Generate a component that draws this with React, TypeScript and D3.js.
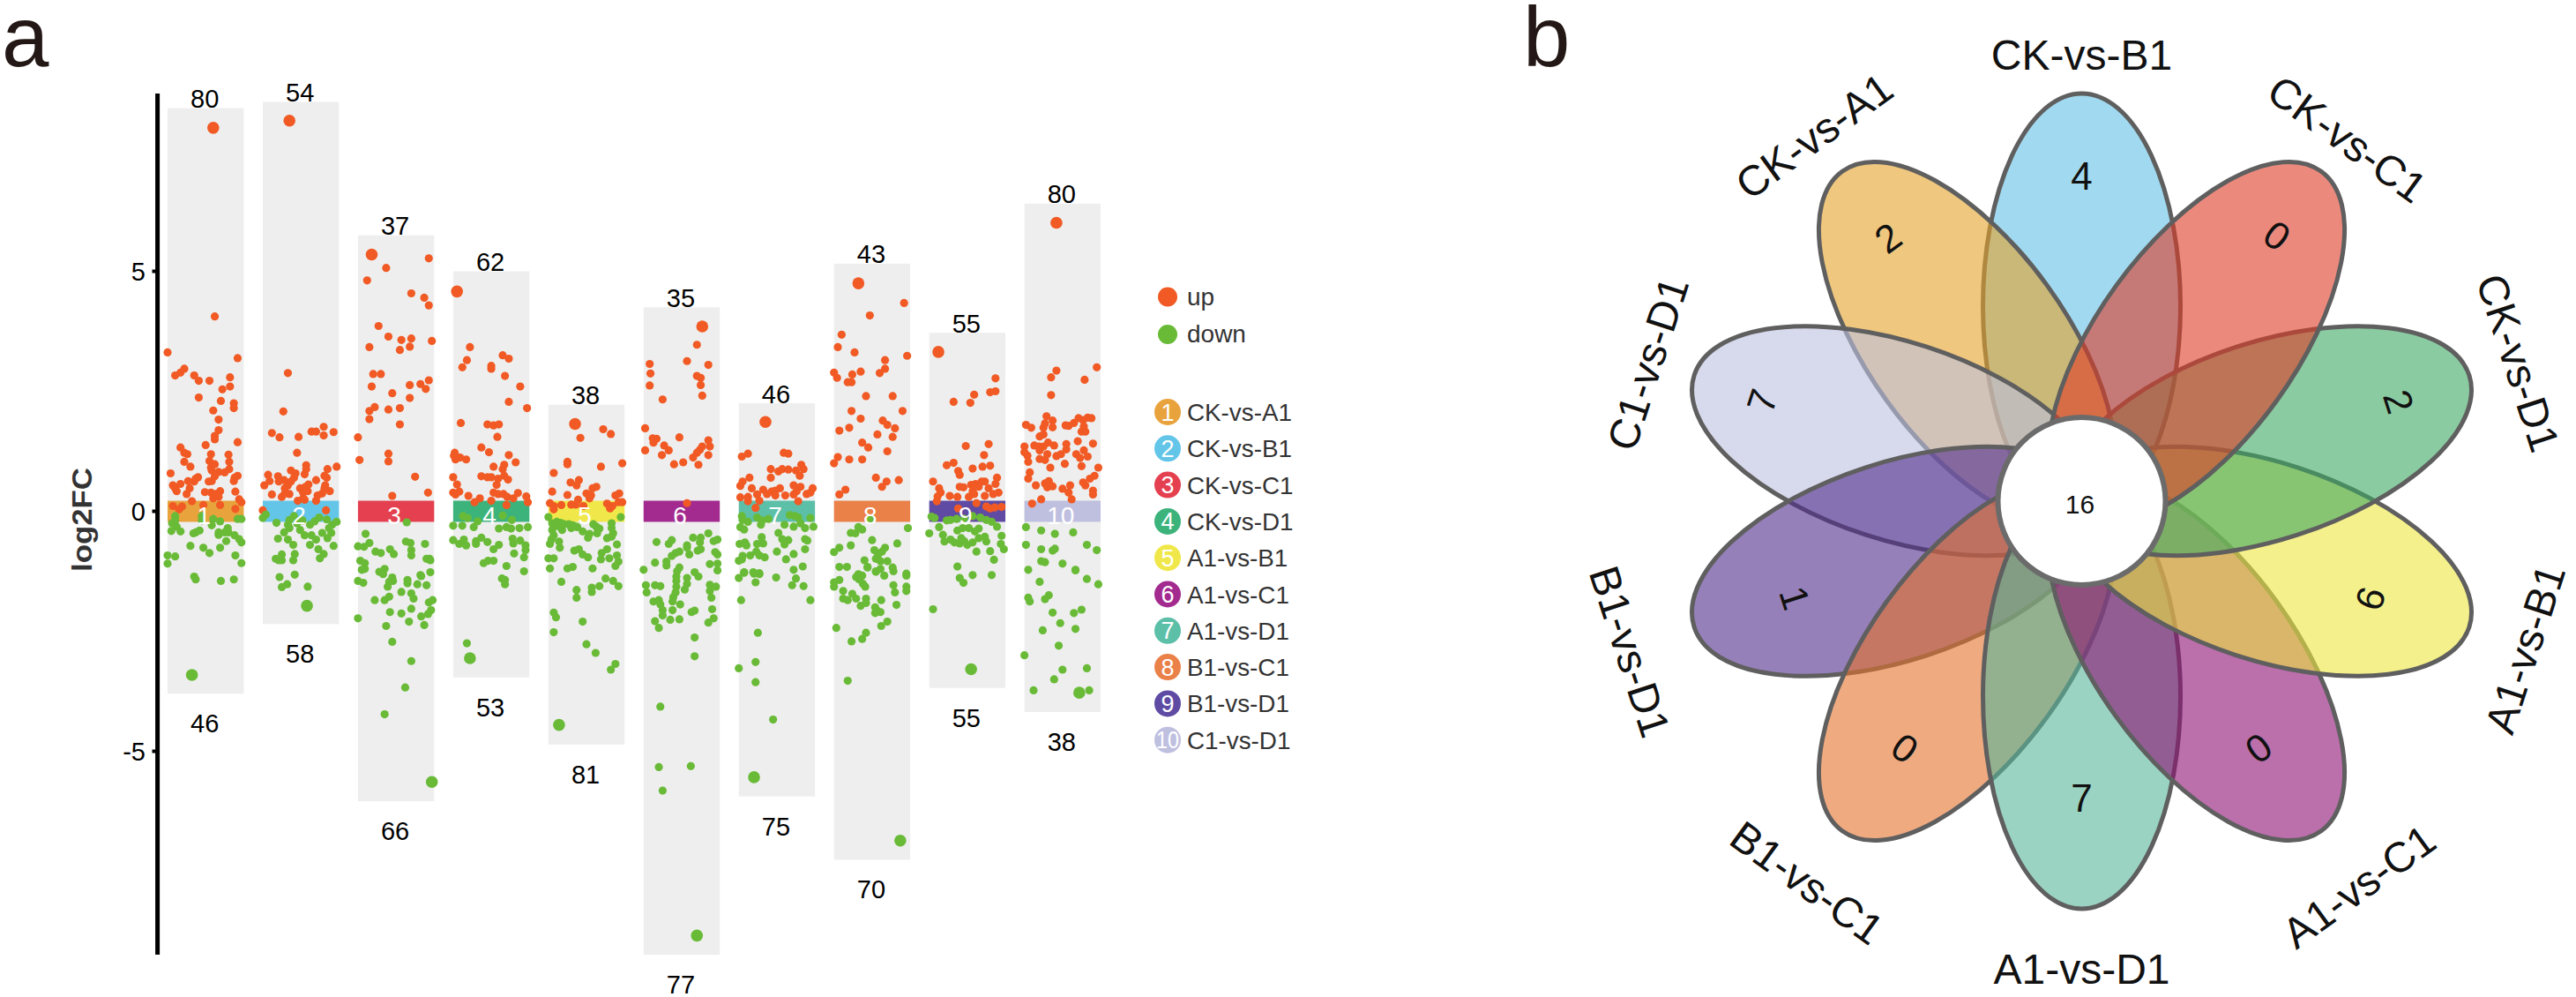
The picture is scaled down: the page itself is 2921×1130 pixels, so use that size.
import React from "react";
import * as d3 from "d3";

const categories = ["CK-vs-A1","CK-vs-B1","CK-vs-C1","CK-vs-D1","A1-vs-B1","A1-vs-C1","A1-vs-D1","B1-vs-C1","B1-vs-D1","C1-vs-D1"];
const palette = ["#E8A33D","#63C5E8","#E4404F","#3DB37C","#F0E84A","#A32A8F","#5CBFA8","#EA8149","#5F4BA3","#BFBFE0"];
const vennPalette = ["#E4A228","#63C2E6","#DF3A26","#3EA862","#EDE63E","#8E0F73","#57B699","#E4712B","#502B8C","#BCBFDF"];
const upCounts = [80,54,37,62,38,35,46,43,55,80];
const downCounts = [46,58,66,53,81,77,75,70,55,38];
const barTops = [8.4,8.53,5.75,5.0,2.22,4.25,2.25,5.16,3.72,6.41];
const barBottoms = [-3.8,-2.35,-6.04,-3.46,-4.86,-9.24,-5.94,-7.26,-3.68,-4.18];
const yTicks = [5,0,-5];
const legendKeys = ["up","down"];
const vennCounts = [2,4,0,2,6,0,7,0,1,7];
const vennCore = 16;
const vennAngles = [-36,0,36,72,108,144,180,216,252,288];
const vennDrawOrder = [1,0,9,8,7,6,5,4,3,2];
const labelRotations = [-36,0,36,72,-72,-36,0,36,72,-72];
const labelRadii = [516,510,512,520,529,535,526,530,539,517];
const countRadii = [374,373,377,378,344,341,332,341,342,381];

// each point: [position across the column 0..1, log2FC]
const up1 = [[.60,7.99],[.62,4.06],[0,3.31],[.92,3.19],[.22,2.97],[.17,2.89],[.10,2.83],[.35,2.83],[.41,2.72],[.55,2.72],[.82,2.79],[.82,2.60],[.72,2.54],[.41,2.37],[.70,2.30],[.87,2.25],[.87,2.15],[.60,2.10],[.67,1.91],[.67,1.69],[.62,1.57],[.62,1.50],[.50,1.38],[.92,1.44],[.17,1.33],[.22,1.22],[.26,1.19],[.57,1.19],[.80,1.18],[.22,1.03],[.30,.93],[.55,1.05],[.62,.98],[.81,1.03],[.57,.91],[.81,.88],[.58,.85],[.04,.79],[.67,.82],[.75,.81],[.62,.73],[.40,.71],[.37,.68],[.27,.63],[.35,.62],[.92,.74],[.88,.70],[.87,.63],[.58,.63],[.54,.62],[.17,.57],[.07,.54],[.10,.48],[.12,.42],[.29,.48],[.25,.36],[.49,.40],[.57,.39],[.63,.36],[.69,.42],[.67,.30],[.60,.27],[.89,.41],[.94,.25],[.97,.19],[.32,.21],[.07,.11],[.19,.10],[.15,.04],[.47,.13],[.69,.13],[.89,.05]];
const down1 = [[.10,-.10],[.10,-.19],[.45,-.10],[.45,-.19],[.60,-.16],[.69,-.21],[.92,-.16],[.97,-.16],[.06,-.25],[.12,-.32],[.05,-.41],[.17,-.42],[.37,-.44],[.42,-.40],[.34,-.46],[.58,-.29],[.67,-.44],[.79,-.35],[.67,-.49],[.75,-.44],[.80,-.44],[.88,-.50],[.94,-.58],[.97,-.65],[.77,-.62],[.30,-.72],[.47,-.76],[.55,-.87],[.69,-.76],[.89,-.92],[0,-.92],[.10,-.94],[0,-1.09],[.97,-1.08],[.35,-1.36],[.37,-1.42],[.70,-1.45],[.87,-1.42],[.32,-3.41]];
const up2 = [[.35,8.14],[.33,2.88],[.27,2.08],[.80,1.76],[.80,1.58],[.93,1.65],[.64,1.66],[.70,1.66],[.12,1.63],[.22,1.54],[.47,1.55],[.45,1.22],[.57,.96],[.97,.93],[.85,.88],[.37,.85],[.57,.88],[.07,.76],[.43,.79],[.55,.77],[.81,.74],[.20,.73],[.28,.65],[.41,.70],[.37,.62],[.70,.65],[.84,.70],[.09,.63],[.21,.62],[.02,.54],[.33,.54],[.60,.56],[.82,.54],[.56,.51],[.49,.48],[.12,.35],[.29,.48],[.29,.37],[.35,.36],[.25,.30],[.53,.39],[.59,.42],[.53,.27],[.88,.42],[.78,.37],[.72,.33],[.70,.22],[.46,.22],[.55,.24],[0,.02],[.83,.02],[.81,.48]];
const down2 = [[.04,-.07],[0,-.14],[.18,-.24],[.41,-.10],[.35,-.18],[.33,-.28],[.35,-.35],[.45,-.25],[.52,-.19],[.74,-.13],[.68,-.21],[.84,-.17],[.62,-.28],[.91,-.28],[.97,-.22],[.87,-.35],[.28,-.44],[.49,-.39],[.55,-.50],[.20,-.57],[.33,-.59],[.40,-.70],[.64,-.50],[.70,-.59],[.78,-.45],[.90,-.45],[.85,-.56],[.62,-.70],[.93,-.72],[.73,-.79],[.80,-.89],[.75,-.98],[.42,-.89],[.40,-1.02],[.25,-.90],[.17,-.99],[.21,-1.02],[.25,-1.02],[.22,-1.37],[.42,-1.32],[.32,-1.52],[.25,-1.58],[.59,-1.57],[.58,-1.97]];
const up3 = [[.18,5.35],[.37,5.07],[.93,5.27],[.12,4.81],[.70,4.54],[.87,4.45],[.93,4.29],[.27,3.86],[.40,3.64],[.57,3.57],[.70,3.60],[.97,3.55],[.15,3.42],[.68,3.43],[.55,3.36],[.20,2.86],[.30,2.86],[.93,2.73],[.82,2.65],[.68,2.63],[.89,2.55],[.18,2.60],[.45,2.46],[.68,2.36],[.22,2.17],[.15,2.09],[.40,2.12],[.55,2.15],[.15,1.92],[.55,1.81],[0,1.54],[.40,1.20],[.40,1.04],[.02,1.07],[.75,.72],[.92,.39],[.45,.32]];
const down3 = [[.64,-.23],[.10,-.47],[.15,-.66],[0,-.73],[.08,-.74],[.23,-.84],[.30,-.87],[.42,-.79],[.47,-.89],[.63,-.63],[.69,-.66],[.70,-.81],[.70,-.92],[.88,-.68],[.90,-.99],[.94,-.99],[.95,-1.02],[.03,-1.03],[.09,-1.08],[.09,-1.20],[.05,-1.22],[.28,-1.26],[.35,-1.20],[.82,-1.33],[.95,-1.27],[.33,-1.31],[.45,-1.38],[.41,-1.47],[.46,-1.45],[.39,-1.57],[.65,-1.43],[.65,-1.50],[.83,-1.35],[.78,-1.52],[.90,-1.54],[0,-1.45],[.07,-1.49],[.57,-1.68],[.70,-1.71],[.73,-1.82],[.22,-1.85],[.35,-1.85],[.41,-1.78],[.93,-1.90],[.98,-1.85],[.70,-2.03],[.42,-2.10],[.57,-2.13],[.96,-2.06],[.92,-2.14],[.83,-2.19],[0,-2.23],[.67,-2.30],[.37,-2.39],[.87,-2.37],[.45,-2.72],[.70,-3.12],[.62,-3.67],[.35,-4.23],[.97,-5.64]];
const up4 = [[.05,4.58],[.22,3.42],[.65,3.25],[.73,3.18],[.18,3.15],[.12,3.0],[.50,3.03],[.50,2.97],[.68,2.82],[.88,2.60],[.73,2.28],[.97,2.15],[.10,1.84],[.45,1.81],[.53,1.79],[.60,1.81],[.58,1.55],[.37,1.33],[.47,1.23],[.73,1.17],[.82,1.02],[.01,1.16],[.02,1.22],[.03,1.08],[.09,1.12],[.17,1.08],[.53,.93],[.67,.97],[.65,.88],[0,.71],[.05,.56],[.37,.73],[.45,.71],[.50,.71],[.59,.68],[.67,.74],[.72,.66],[.57,.55],[0,.39],[.08,.41],[.03,.35],[.20,.32],[.35,.27],[.28,.19],[.50,.22],[.53,.39],[.59,.36],[.66,.36],[.71,.30],[.79,.27],[.85,.38],[.96,.31],[.98,.19],[.70,.13]];
const down4 = [[.13,-.10],[.19,-.14],[.65,-.09],[.77,-.18],[.32,-.21],[0,-.30],[.12,-.30],[.27,-.33],[.60,-.36],[.70,-.33],[.76,-.36],[.87,-.35],[.98,-.33],[0,-.60],[.14,-.59],[.08,-.68],[.17,-.71],[.30,-.62],[.37,-.55],[.45,-.64],[.30,-.68],[.53,-.79],[.60,-.70],[.78,-.57],[.79,-.67],[.88,-.61],[.95,-.71],[.95,-.81],[.80,-.88],[.93,-.96],[.40,-1.08],[.46,-1.03],[.53,-1.03],[.70,-1.14],[.93,-1.25],[.64,-1.40],[.68,-1.52],[.68,-1.43],[.18,-2.75],[.22,-3.06]];
const up5 = [[.35,1.82],[.72,1.71],[.82,1.61],[.42,1.53],[.25,1.03],[.25,.98],[.69,.93],[.97,1.0],[.07,.80],[.29,.60],[.40,.65],[.37,.54],[.63,.51],[.58,.48],[.05,.41],[.25,.34],[.50,.37],[.56,.33],[.54,.27],[.39,.24],[.36,.14],[.30,.14],[.46,.11],[.88,.33],[.93,.37],[.97,.19],[.92,.19],[.77,.16],[.84,.11],[.81,.06],[.02,.17],[.07,.11],[.07,.04],[.17,.13]];
const down5 = [[0,-.12],[.95,-.12],[.83,-.25],[.83,-.35],[.05,-.25],[.11,-.22],[.16,-.24],[.21,-.27],[.27,-.27],[.32,-.29],[.36,-.32],[.38,-.33],[.07,-.32],[.15,-.32],[.05,-.39],[.18,-.39],[.30,-.35],[.45,-.42],[.54,-.47],[.52,-.55],[.59,-.27],[.63,-.32],[.67,-.36],[.64,-.46],[.85,-.46],[.83,-.53],[.77,-.56],[.07,-.50],[.04,-.59],[.02,-.68],[.14,-.63],[.15,-.76],[.34,-.82],[.40,-.79],[.45,-.90],[.52,-.96],[.90,-.69],[.77,-.79],[.70,-.87],[.69,-1.0],[.80,-.98],[.90,-.92],[.92,-1.05],[.88,-1.14],[0,-.98],[.07,-.98],[.02,-1.19],[.25,-1.19],[.32,-1.16],[.58,-1.19],[.17,-1.47],[.37,-1.64],[.37,-1.80],[.57,-1.59],[.57,-1.68],[.67,-1.56],[.75,-1.40],[.85,-1.45],[.92,-1.56],[.07,-2.11],[.10,-2.21],[.45,-2.30],[.07,-2.52],[.50,-2.77],[.62,-2.95],[.88,-3.18],[.82,-3.30],[.14,-4.45]];
const up6 = [[.77,3.85],[.70,3.47],[.57,3.13],[.85,3.05],[.08,3.07],[.09,2.87],[.08,2.62],[.25,2.33],[.70,2.82],[.75,2.78],[.75,2.63],[.77,2.41],[.85,1.48],[.87,1.35],[.77,1.35],[.74,1.28],[.70,1.22],[.65,1.12],[.85,1.17],[.72,.97],[.52,1.02],[.40,.98],[.47,1.54],[.02,1.73],[.12,1.52],[.17,1.51],[.13,1.43],[.02,1.27],[.27,1.37],[.33,1.27],[.24,1.17],[.57,.17]];
const down6 = [[.17,-.64],[.37,-.60],[.33,-.68],[.65,-.55],[.75,-.55],[.85,-.46],[.74,-.65],[.92,-.62],[.97,-.59],[.57,-.71],[.57,-.76],[.47,-.84],[.42,-.87],[.37,-.93],[.75,-.79],[.71,-.82],[.60,-.90],[.94,-.85],[.97,-.90],[.15,-1.07],[.30,-1.05],[.30,-1.13],[.87,-1.10],[.97,-1.09],[.97,-1.23],[0,-1.22],[.47,-1.17],[.44,-1.25],[.67,-1.27],[.43,-1.36],[.43,-1.45],[.43,-1.57],[.42,-1.69],[.39,-1.79],[.38,-1.88],[.38,-2.06],[.03,-1.54],[.04,-1.69],[.15,-1.54],[.22,-1.56],[.13,-1.88],[.20,-1.85],[.22,-1.94],[.25,-2.06],[.25,-2.17],[.57,-1.39],[.57,-1.51],[.54,-1.63],[.72,-1.36],[.87,-1.53],[.95,-1.57],[.87,-1.66],[.89,-1.80],[.48,-1.94],[.63,-2.10],[.67,-2.07],[.90,-2.04],[.92,-2.23],[.85,-2.32],[.47,-2.25],[.35,-2.26],[.15,-2.29],[.20,-2.43],[.67,-2.63],[.67,-3.02],[.22,-4.07],[.62,-5.31],[.20,-5.33],[.25,-5.82],[.70,-8.84]];
const up7 = [[.35,1.86],[.04,1.14],[.12,1.20],[.59,1.22],[.65,1.20],[.42,.88],[.52,.83],[.57,.88],[.65,.87],[.75,.85],[.82,.97],[.85,.88],[.80,.74],[.42,.70],[.14,.70],[.05,.62],[.02,.53],[.17,.48],[.24,.35],[.02,.29],[.12,.30],[.12,.21],[.27,.22],[.32,.45],[.37,.36],[.43,.41],[.48,.43],[.54,.48],[.48,.33],[.61,.33],[.72,.54],[.81,.51],[.76,.42],[.72,.35],[.78,.21],[.89,.36],[.94,.39],[.97,.48],[.22,.07]];
const down7 = [[.04,-.10],[.05,-.18],[.12,-.22],[.02,-.33],[.07,-.38],[.24,-.13],[.29,-.28],[.31,-.19],[.39,-.16],[.67,-.08],[.74,-.10],[.78,-.13],[.60,-.28],[.72,-.32],[.81,-.25],[.87,-.35],[.94,-.14],[.98,-.32],[.52,-.45],[.30,-.54],[.57,-.58],[.65,-.60],[.60,-.69],[.87,-.58],[.90,-.61],[.87,-.79],[.01,-.68],[.08,-.65],[.10,-.71],[.24,-.68],[.32,-.67],[.50,-.84],[.72,-.89],[.23,-.84],[.27,-.92],[.34,-.96],[.62,-1.0],[.15,-.92],[.05,-.93],[.04,-1.0],[0,-1.03],[.84,-1.15],[.72,-1.22],[.07,-1.27],[.19,-1.27],[.27,-1.29],[.07,-1.28],[.20,-1.30],[.27,-1.31],[0,-1.39],[.49,-1.38],[.75,-1.40],[.85,-1.56],[.70,-1.54],[.22,-1.48],[.03,-1.85],[.94,-1.85],[.25,-2.53],[.22,-3.14],[0,-3.27],[.22,-3.56],[.45,-4.34],[.20,-5.54]];
const up8 = [[.32,4.75],[.92,4.34],[.47,4.08],[.10,3.68],[.05,3.42],[.27,3.31],[.96,3.24],[.67,3.15],[.67,2.97],[.60,2.88],[.35,2.91],[.24,2.85],[0,2.89],[.04,2.78],[.18,2.69],[.23,2.69],[.42,2.40],[.77,2.40],[.90,2.09],[.23,2.09],[.35,1.93],[.64,1.89],[.70,1.80],[.80,1.73],[.20,1.74],[.07,1.68],[.57,1.60],[.77,1.55],[.37,1.43],[.45,1.33],[.70,1.25],[.05,1.13],[.20,1.08],[.37,1.08],[0,1.0],[.55,.70],[.69,.62],[.63,.51],[.85,.65],[.15,.45],[.07,.35]];
const down8 = [[.47,-.16],[.97,-.35],[.32,-.33],[.37,-.38],[.22,-.45],[.28,-.46],[.50,-.60],[.22,-.71],[.83,-.67],[.07,-.76],[0,-.85],[.53,-.81],[.67,-.76],[.63,-.84],[.58,-.90],[.55,-.99],[.61,-1.04],[.40,-1.02],[.70,-1.04],[.07,-1.16],[.17,-1.16],[.44,-1.16],[.61,-1.20],[.55,-1.25],[.77,-1.17],[.78,-1.25],[.32,-1.31],[.95,-1.30],[.95,-1.34],[.44,-1.17],[.55,-1.26],[.66,-1.34],[.29,-1.37],[.37,-1.34],[.33,-1.42],[.38,-1.51],[.41,-1.57],[0,-1.48],[.07,-1.43],[0,-1.57],[.78,-1.54],[.80,-1.69],[.95,-1.57],[.95,-1.66],[.12,-1.66],[.12,-1.82],[.18,-1.85],[.24,-1.72],[.29,-1.82],[.42,-1.82],[.42,-1.91],[.35,-1.97],[.62,-1.85],[.82,-1.95],[.54,-2.0],[.56,-2.06],[.61,-2.10],[.54,-2.12],[.70,-2.30],[.62,-2.39],[.03,-2.43],[.42,-2.53],[.37,-2.66],[.23,-2.71],[.18,-3.53],[.87,-6.86]];
const up9 = [[.12,3.32],[.87,2.77],[.59,2.43],[.80,2.48],[.87,2.50],[.32,2.28],[.54,2.26],[.48,1.36],[.78,1.40],[.72,1.17],[.23,.96],[.32,1.01],[.38,.84],[.40,.76],[.57,.89],[.70,.93],[.80,.95],[.05,.62],[.13,.48],[.15,.39],[.11,.31],[.10,.21],[.27,.32],[.37,.30],[.40,.51],[.45,.50],[.55,.55],[.61,.57],[.69,.62],[.73,.62],[.65,.51],[.57,.42],[.52,.30],[.59,.36],[.73,.32],[.62,.17],[.78,.48],[.84,.36],[.89,.70],[.87,.57],[.91,.39],[.38,.06],[.75,.10],[.80,.06],[.86,.08],[.95,.09]];
const down9 = [[.03,-.11],[.07,-.14],[0,-.46],[.13,-.33],[.18,-.49],[.20,-.63],[.23,-.19],[.28,-.18],[.36,-.16],[.46,-.16],[.57,-.10],[.67,-.13],[.75,-.18],[.82,-.22],[.89,-.32],[.37,-.40],[.44,-.35],[.52,-.35],[.60,-.42],[.65,-.36],[.28,-.59],[.33,-.65],[.42,-.56],[.40,-.67],[.46,-.62],[.50,-.70],[.57,-.65],[.65,-.56],[.73,-.53],[.75,-.63],[.62,-.84],[.80,-.83],[.95,-.51],[.94,-.68],[.98,-.79],[.85,-1.01],[.37,-1.15],[.57,-1.33],[.82,-1.33],[.40,-1.39],[.45,-1.49],[.05,-2.04],[.55,-3.29]];
const up10 = [[.42,6.01],[.95,3.0],[.42,2.93],[.35,2.79],[.79,2.74],[.35,2.42],[.02,1.80],[.09,1.74],[.29,1.98],[.37,1.89],[.27,1.83],[.25,1.74],[.37,1.75],[.25,1.60],[.20,1.56],[.54,1.79],[.58,1.78],[.65,1.84],[.71,1.94],[.77,1.90],[.83,1.95],[.88,1.94],[.78,1.77],[.75,1.66],[.80,1.66],[0,1.35],[.13,1.37],[.19,1.35],[.25,1.35],[.31,1.43],[.39,1.37],[.55,1.40],[.55,1.29],[.70,1.46],[.90,1.41],[0,1.23],[.20,1.27],[.04,1.16],[.05,1.03],[.20,1.09],[.27,1.07],[.30,1.19],[.42,1.15],[.48,1.19],[.68,1.19],[.78,1.27],[.73,1.11],[.83,1.14],[.34,.91],[.53,.99],[.75,.94],[.97,.91],[.07,.81],[.05,.68],[.15,.54],[.32,.63],[.27,.58],[.30,.50],[.37,.52],[.50,.47],[.60,.54],[.58,.39],[.77,.60],[.80,.54],[.92,.74],[.86,.68],[.90,.43],[.90,.35],[.62,.25],[.22,.25],[.10,.16]];
const down10 = [[.02,-.33],[.22,-.40],[.40,-.47],[.64,-.44],[.82,-.70],[.95,-.81],[.02,-.70],[.22,-.79],[.37,-.82],[.40,-.78],[.22,-1.04],[.27,-1.06],[.50,-1.09],[.05,-1.22],[.67,-1.22],[.20,-1.47],[.05,-1.80],[.07,-1.88],[.27,-1.83],[.32,-1.75],[.37,-2.11],[.65,-2.12],[.75,-2.05],[.47,-2.33],[.24,-2.48],[.67,-2.45],[.45,-2.80],[0,-3.0],[.50,-3.30],[.82,-3.27],[.39,-3.50],[.12,-3.73],[.85,-3.73],[.72,-3.78],[.82,-1.41],[.97,-1.52],[.67,-1.23]];

const upSeries = [up1,up2,up3,up4,up5,up6,up7,up8,up9,up10];
const downSeries = [down1,down2,down3,down4,down5,down6,down7,down8,down9,down10];

const FONT = "'Liberation Sans', Arial, sans-serif";
const UP = "#F15A24";
const DOWN = "#69BB37";

export default function App() {
  const x = d3.scaleBand<string>().domain(categories).range([190, 1248]).paddingInner(0.2).paddingOuter(0);
  const y = d3.scaleLinear().domain([0, -5]).range([579.5, 851.5]);
  const jitter = d3.scaleLinear().domain([0, 1]).range([0, x.bandwidth()]);
  const bandV = 0.22;
  const axisTop = 106, axisBottom = 1082;
  const cx = 2360.5, cy = 568;
  const petalOffset = 221;

  return (
    <svg width={2921} height={1130} viewBox="0 0 2921 1130"
      style={{ position: "absolute", left: 0, top: 0, fontFamily: FONT, background: "#fff" }}>
      <text x={2} y={75} fontSize={96} fill="#231815">a</text>
      <text x={1727} y={75} fontSize={96} fill="#231815">b</text>

      {/* axis */}
      <line x1={178.6} x2={178.6} y1={axisTop} y2={axisBottom} stroke="#000" strokeWidth={5} />
      {yTicks.map(t => (
        <g key={t}>
          <line x1={172.5} x2={178} y1={y(t)} y2={y(t)} stroke="#000" strokeWidth={4} />
          <text x={165} y={y(t) + 10} fontSize={29} textAnchor="end" fill="#000">{t}</text>
        </g>
      ))}
      <text transform="translate(104,589) rotate(-90)" fontSize={31} fontWeight="bold" fill="#333"
        textAnchor="middle" textLength={118} lengthAdjust="spacingAndGlyphs">log2FC</text>

      {/* columns */}
      {categories.map((c, i) => {
        const x0 = x(c)!;
        const bw = x.bandwidth();
        return (
          <g key={c}>
            <rect x={x0} width={bw} y={y(barTops[i])} height={y(barBottoms[i]) - y(barTops[i])} fill="#EEEEEE" />
            <rect x={x0} width={bw} y={y(bandV)} height={y(-bandV) - y(bandV)} fill={palette[i]} />
            <text x={x0 + bw / 2 - 1} y={y(barTops[i]) - 0.5} fontSize={29} textAnchor="middle" fill="#000">{upCounts[i]}</text>
            <text x={x0 + bw / 2 - 1} y={y(barBottoms[i]) + 44} fontSize={29} textAnchor="middle" fill="#000">{downCounts[i]}</text>
          </g>
        );
      })}
      {categories.map((c, i) => {
        const x0 = x(c)!;
        const maxUp = d3.max(upSeries[i], d => d[1])!;
        const minDown = d3.min(downSeries[i], d => d[1])!;
        return (
          <g key={c}>
            {upSeries[i].map((d, k) => (
              <circle key={k} cx={x0 + jitter(d[0])} cy={y(d[1])} r={d[1] === maxUp ? 6.8 : 4.6} fill={UP} />
            ))}
            {downSeries[i].map((d, k) => (
              <circle key={k} cx={x0 + jitter(d[0])} cy={y(d[1])} r={d[1] === minDown ? 6.8 : 4.6} fill={DOWN} />
            ))}
            <text x={x0 + x.bandwidth() / 2 - 2} y={594} fontSize={28} textAnchor="middle" fill="#fff">{i + 1}</text>
          </g>
        );
      })}

      {/* legend */}
      {legendKeys.map((k, i) => (
        <g key={k}>
          <circle cx={1324} cy={336.5 + i * 42.5} r={11} fill={i === 0 ? UP : DOWN} />
          <text x={1346} y={336.5 + i * 42.5 + 9} fontSize={28} fill="#333">{k}</text>
        </g>
      ))}
      {categories.map((c, i) => {
        const ly = 467 + i * 41.3;
        return (
          <g key={c}>
            <circle cx={1324} cy={ly} r={15} fill={palette[i]} />
            <text x={1324} y={ly + 9.5} fontSize={27} textAnchor="middle" fill="#fff"
              textLength={i === 9 ? 26 : undefined} lengthAdjust="spacingAndGlyphs">{i + 1}</text>
            <text x={1346} y={ly + 10} fontSize={27.8} fill="#333">{c}</text>
          </g>
        );
      })}

      {/* flower */}
      {vennDrawOrder.map(i => (
        <ellipse key={categories[i]} cx={0} cy={-petalOffset} rx={112} ry={241}
          transform={`translate(${cx},${cy}) rotate(${vennAngles[i]})`}
          fill={vennPalette[i]} fillOpacity={0.6} stroke="#5F5F5F" strokeWidth={5} />
      ))}
      <circle cx={cx} cy={cy} r={95} fill="#fff" stroke="#6B6B6B" strokeWidth={6} />
      <text x={cx - 2} y={582} fontSize={30} textAnchor="middle" fill="#111">{vennCore}</text>
      {categories.map((c, i) => {
        const a = vennAngles[i] * Math.PI / 180;
        const lx = cx + labelRadii[i] * Math.sin(a), ly = 572 - labelRadii[i] * Math.cos(a);
        const nx = cx + countRadii[i] * Math.sin(a), ny = 572 - countRadii[i] * Math.cos(a);
        return (
          <g key={c}>
            <text transform={`translate(${lx},${ly}) rotate(${labelRotations[i]})`} fontSize={48} textAnchor="middle"
              dominantBaseline="central" fill="#111">{c}</text>
            <text transform={`translate(${nx},${ny}) rotate(${labelRotations[i]})`} fontSize={44} textAnchor="middle"
              dominantBaseline="central" fill="#111">{vennCounts[i]}</text>
          </g>
        );
      })}
    </svg>
  );
}
